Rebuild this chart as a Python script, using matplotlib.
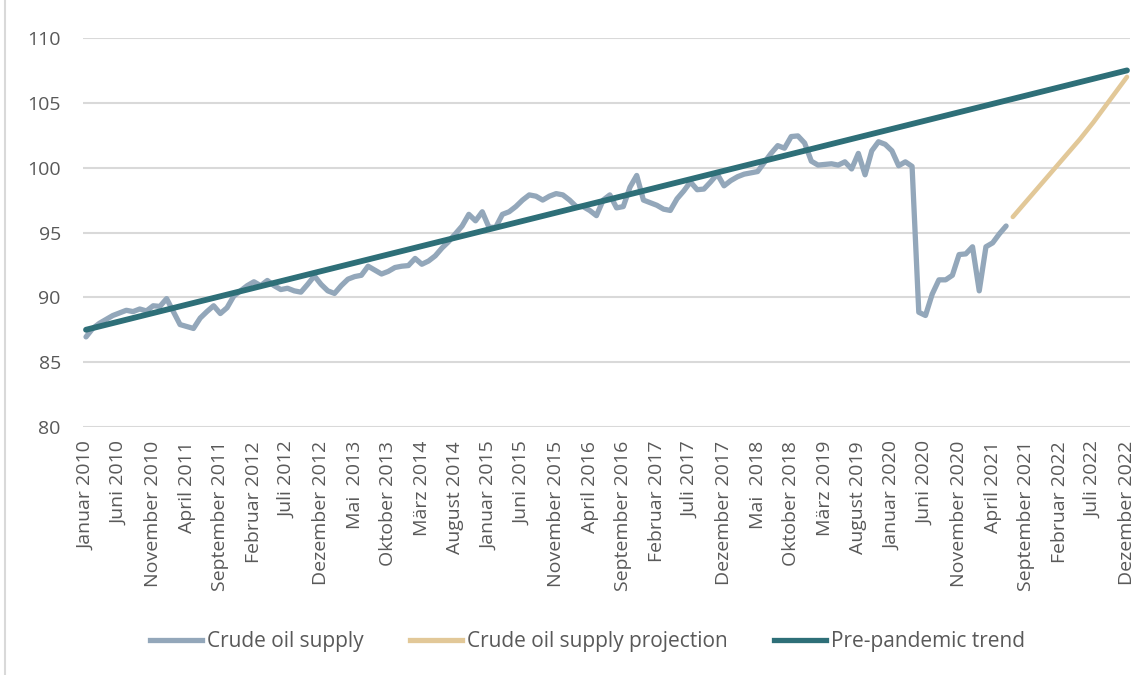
import numpy as np
import matplotlib
matplotlib.use("Agg")
import matplotlib.pyplot as plt
from matplotlib.lines import Line2D

plt.rcParams['font.family'] = ['Open Sans', 'DejaVu Sans']

# month index 0 = Januar 2010, 155 = Dezember 2022
tick_pos = list(range(0, 156, 5))
tick_labels = [
    "Januar 2010", "Juni 2010", "November 2010", "April 2011", "September 2011",
    "Februar 2012", "Juli 2012", "Dezember 2012", "Mai  2013", "Oktober 2013",
    "März 2014", "August 2014", "Januar 2015", "Juni 2015", "November 2015",
    "April 2016", "September 2016", "Februar 2017", "Juli 2017", "Dezember 2017",
    "Mai  2018", "Oktober 2018", "März 2019", "August 2019", "Januar 2020",
    "Juni 2020", "November 2020", "April 2021", "September 2021", "Februar 2022",
    "Juli 2022", "Dezember 2022",
]

supply = [
    86.95, 87.6, 88.0, 88.3, 88.6, 88.8, 89.0, 88.9, 89.1, 88.95,
    89.35, 89.3, 89.9, 88.9, 87.9, 87.75, 87.6, 88.4, 88.9, 89.35,
    88.75, 89.2, 90.1, 90.5, 90.9, 91.2, 90.9, 91.3, 90.9, 90.6,
    90.7, 90.5, 90.4, 91.0, 91.65, 91.0, 90.5, 90.3, 90.9, 91.4,
    91.6, 91.7, 92.4, 92.1, 91.8, 92.0, 92.3, 92.4, 92.45, 93.0,
    92.55, 92.8, 93.2, 93.8, 94.3, 94.9, 95.5, 96.4, 95.9, 96.6,
    95.4, 95.4, 96.4, 96.6, 97.0, 97.5, 97.9, 97.8, 97.5, 97.8,
    98.0, 97.9, 97.5, 97.0, 97.0, 96.7, 96.3, 97.5, 97.9, 96.9,
    97.0, 98.5, 99.4, 97.5, 97.3, 97.1, 96.8, 96.7, 97.6, 98.2,
    98.9, 98.3, 98.35, 98.9, 99.5, 98.6, 99.0, 99.3, 99.5, 99.6,
    99.7, 100.4, 101.1, 101.7, 101.5, 102.4, 102.45, 101.9, 100.5, 100.2,
    100.25, 100.3, 100.2, 100.45, 99.9, 101.1, 99.45, 101.3, 102.0, 101.8,
    101.3, 100.15, 100.45, 100.1, 88.85, 88.6, 90.25, 91.35, 91.35, 91.7,
    93.3, 93.35, 93.9, 90.5, 93.9, 94.2, 94.9, 95.5,
]

projection_start = 138
projection = [
    96.2, 96.8, 97.4, 98.0, 98.6, 99.2, 99.8, 100.4, 101.0, 101.6,
    102.2, 102.85, 103.5, 104.2, 104.9, 105.6, 106.3, 107.0,
]

trend_x = [0, 155]
trend_y = [87.5, 107.5]

c_supply = "#93a7ba"
c_proj = "#e2c898"
c_trend = "#2e6f78"
c_text = "#595959"
c_grid = "#d9d9d9"

fig = plt.figure(figsize=(11.45, 6.75), dpi=100)
ax = fig.add_axes([83 / 1145, (675 - 427) / 675, (1130 - 83) / 1145, (427 - 38) / 675])

x_supply = np.arange(len(supply))
x_proj = np.arange(projection_start, projection_start + len(projection))

ax.plot(x_supply, supply, color=c_supply, lw=3.8, solid_capstyle='round',
        solid_joinstyle='round', label="Crude oil supply", zorder=3)
ax.plot(x_proj, projection, color=c_proj, lw=3.3, solid_capstyle='round',
        label="Crude oil supply projection", zorder=3)
ax.plot(trend_x, trend_y, color=c_trend, lw=4.2, solid_capstyle='round',
        label="Pre-pandemic trend", zorder=4)

ax.set_xlim(-0.45, 155.45)
ax.set_ylim(80, 110)
ax.set_yticks(range(80, 111, 5))
ax.yaxis.grid(True, color=c_grid, lw=1.5)
ax.set_axisbelow(True)
for s in ax.spines.values():
    s.set_visible(False)

ax.set_xticks(tick_pos)
ax.set_xticklabels(tick_labels, rotation=90, va='top', ha='center')
ax.tick_params(axis='both', length=0, labelsize=14, colors=c_text)
ax.tick_params(axis='y', pad=16)
ax.tick_params(axis='x', pad=10)

handles = [
    Line2D([], [], color=c_supply, lw=3.8),
    Line2D([], [], color=c_proj, lw=3.8),
    Line2D([], [], color=c_trend, lw=3.8),
]
fig.legend(handles, ["Crude oil supply", "Crude oil supply projection", "Pre-pandemic trend"],
           loc='center', bbox_to_anchor=(0.513, 0.049), ncol=3, frameon=False,
           fontsize=15, labelcolor=c_text, handlelength=2.5, handletextpad=0.25,
           columnspacing=2.2)

# chart area border on the left
fig.add_artist(Line2D([5 / 1145, 5 / 1145], [0, 1], color=c_grid, lw=1.5))

fig.savefig("out.png", dpi=100)
